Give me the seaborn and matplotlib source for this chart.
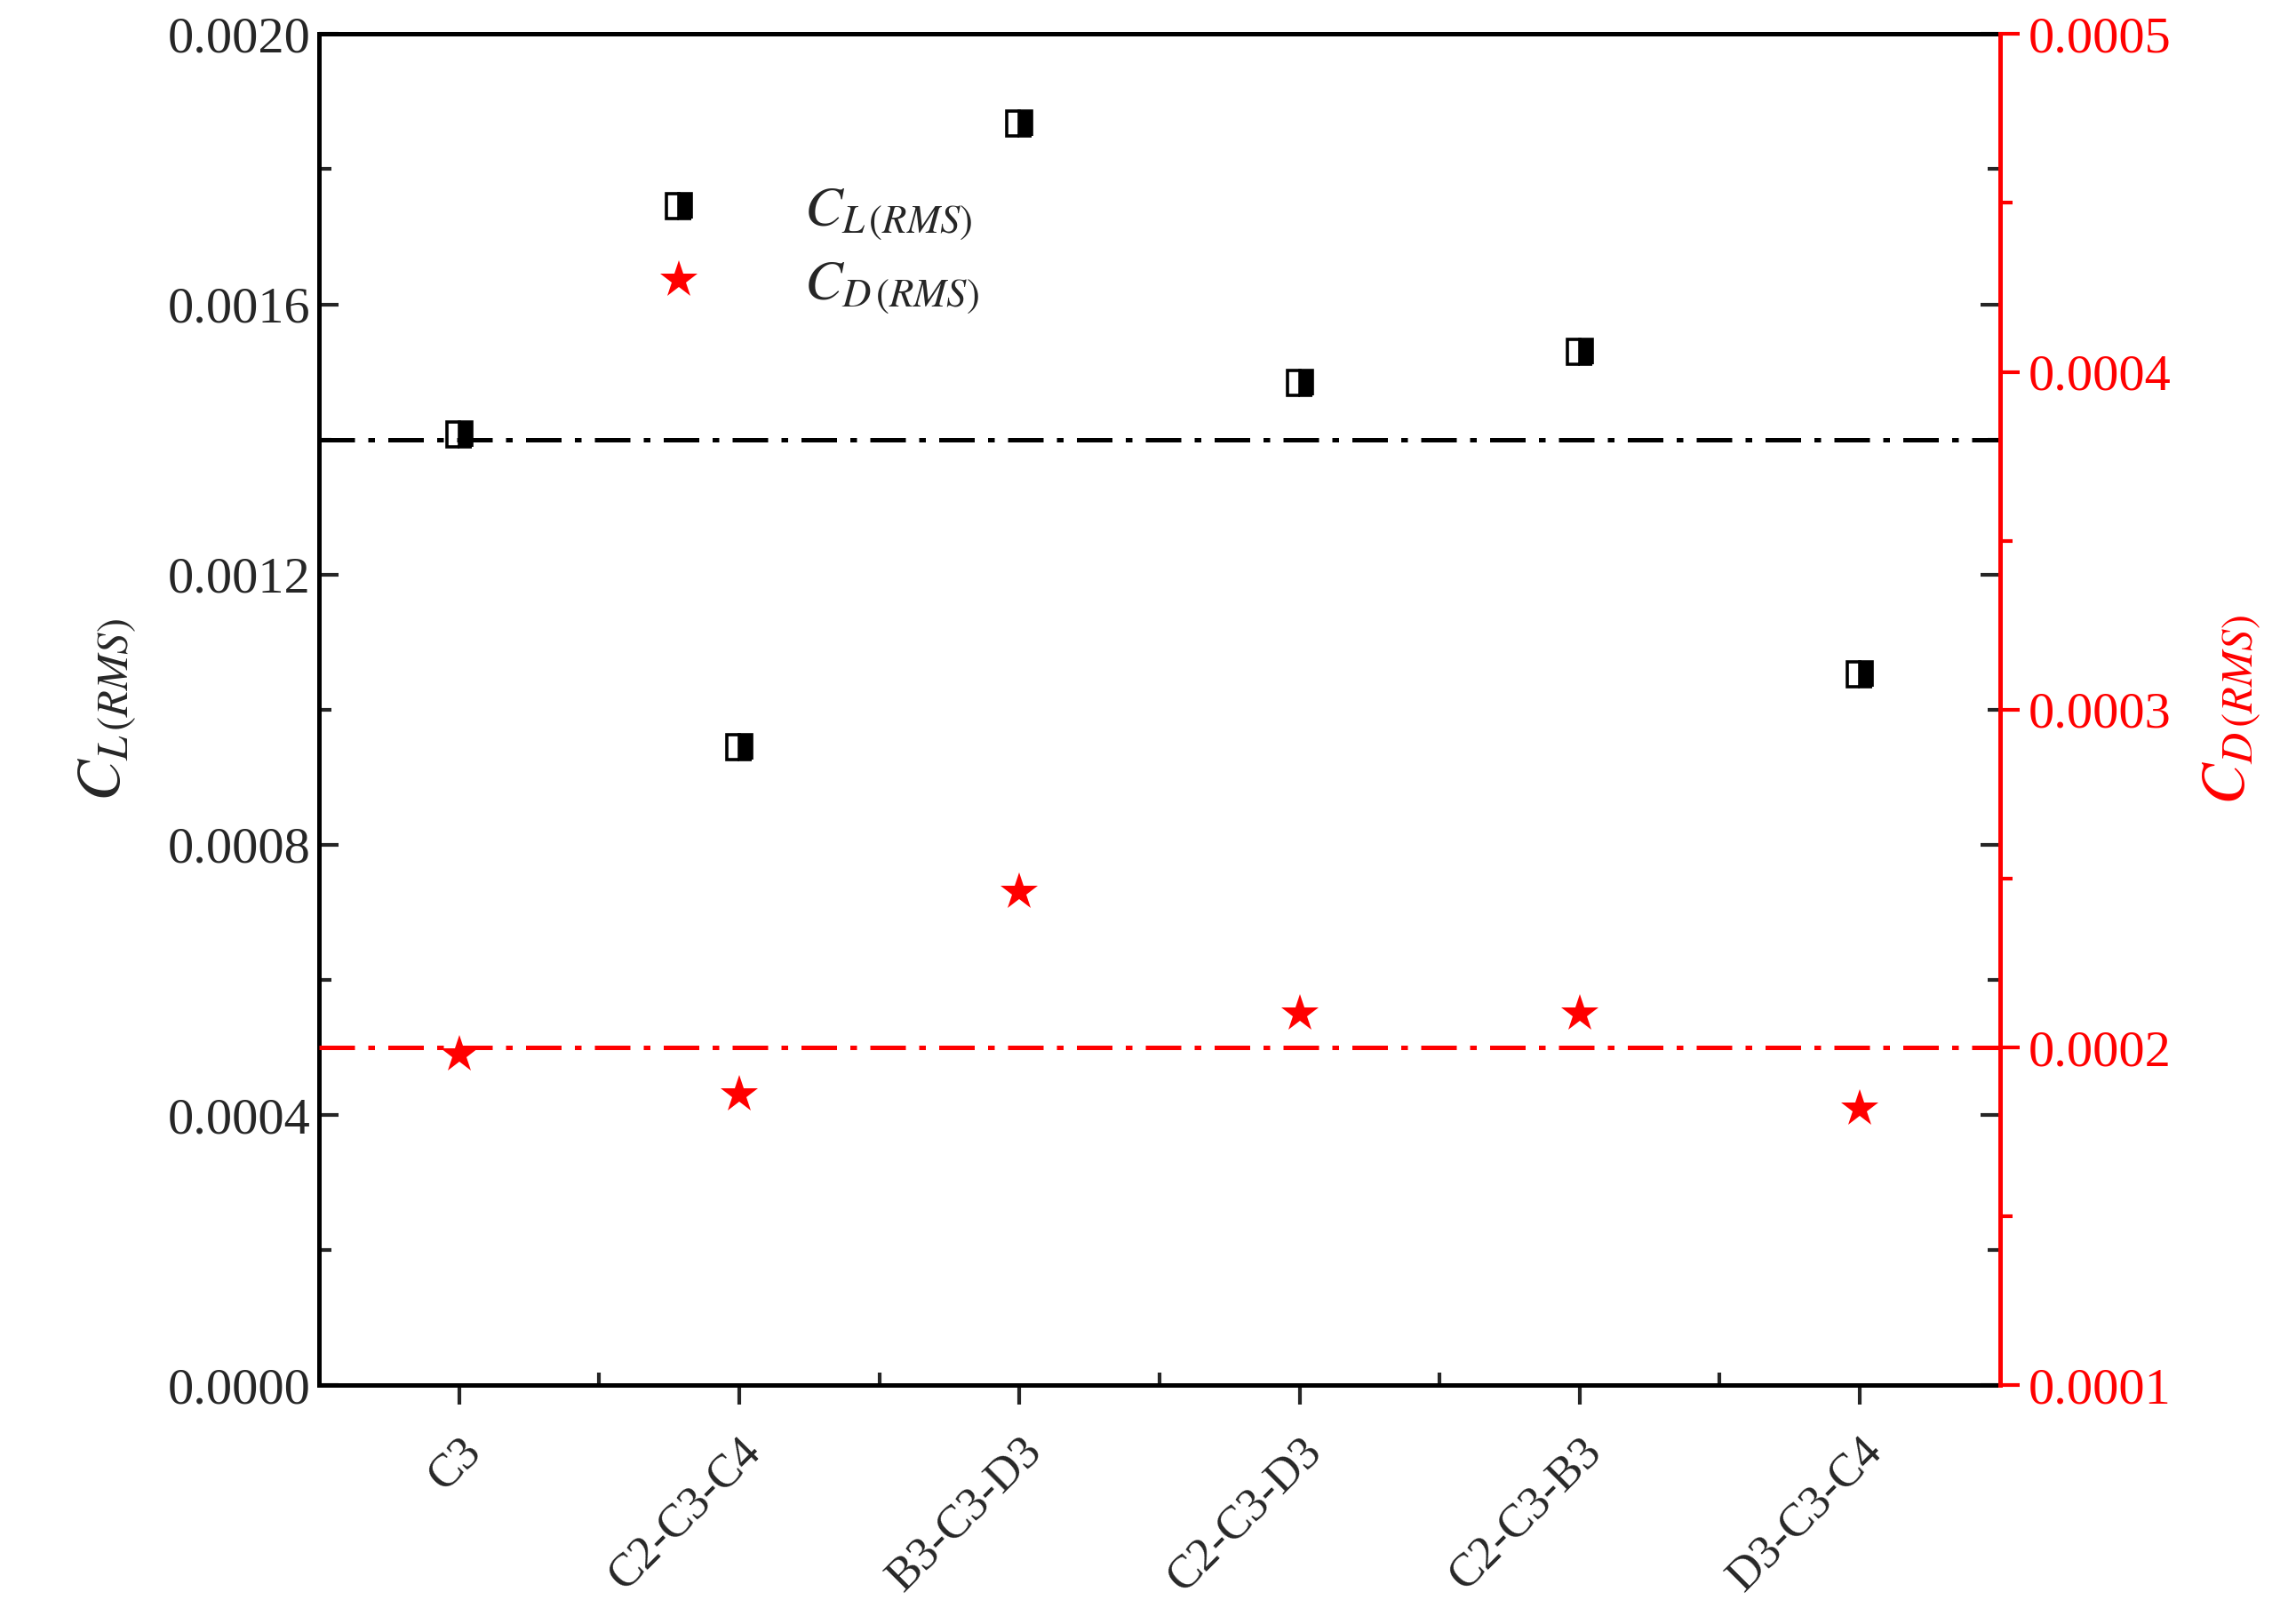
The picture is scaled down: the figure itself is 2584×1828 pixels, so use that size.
import matplotlib
matplotlib.use('Agg')
import matplotlib.pyplot as plt
import seaborn as sns
import numpy as np
from matplotlib.ticker import MultipleLocator, FixedLocator

sns.set_style('white')
plt.rcParams['font.family'] = ['Liberation Serif', 'DejaVu Serif']
plt.rcParams['mathtext.fontset'] = 'stix'

# data
cases = ['C3', 'C2-C3-C4', 'B3-C3-D3', 'C2-C3-D3', 'C2-C3-B3', 'D3-C3-C4']
cl_rms = [0.001408, 0.000945, 0.001868, 0.001484, 0.001530, 0.001053]
cd_rms = [0.000198, 0.000186, 0.000246, 0.000210, 0.000210, 0.000182]
cl_ref = 0.0014
cd_ref = 0.0002

xpos = np.arange(len(cases))

fig = plt.figure(figsize=(12.92, 9.14), dpi=200)
ax = fig.add_axes([0.139, 0.147, 0.732, 0.832])
ax2 = ax.twinx()

sns.lineplot(x=xpos, y=cl_rms, ax=ax, marker='s', linestyle='', color='black',
             markersize=10, fillstyle='right', markeredgewidth=1.3, markeredgecolor='black',
             markerfacecolor='black', markerfacecoloralt='white',
             label='$C_{L\\,(RMS)}$', legend=False)
sns.lineplot(x=xpos, y=cd_rms, ax=ax2, marker='*', linestyle='', color='red',
             markersize=16, markeredgewidth=0, label='$C_{D\\,(RMS)}$', legend=False)
ax.axhline(cl_ref, color='black', linestyle=(0, (8, 3, 1.5, 3)), lw=1.8)
ax2.axhline(cd_ref, color='red', linestyle=(0, (8, 3, 1.5, 3)), lw=1.8)

ax.set_xlim(-0.5, 5.5)
ax.set_ylim(0, 0.002)
ax2.set_ylim(0.0001, 0.0005)

ax.set_xticks(xpos)
ax.set_xticklabels(cases, rotation=45, ha='right', rotation_mode='anchor', fontsize=19)
ax.xaxis.set_minor_locator(FixedLocator(xpos[:-1] + 0.5))
ax.yaxis.set_major_locator(MultipleLocator(0.0004))
ax.yaxis.set_minor_locator(MultipleLocator(0.0002))
ax.set_yticklabels([f'{v:.4f}' for v in ax.get_yticks()], fontsize=21)
ax2.yaxis.set_major_locator(MultipleLocator(0.0001))
ax2.yaxis.set_minor_locator(MultipleLocator(0.00005))
ax2.set_yticklabels([f'{v:.4f}' for v in ax2.get_yticks()], fontsize=21, color='red')

ax.tick_params(which='major', direction='in', length=8, width=1.5, top=False, right=True, left=True, bottom=True)
ax.tick_params(which='minor', direction='in', length=5, width=1.5, right=True, left=True, bottom=True)
ax.tick_params(axis='x', which='major', direction='out', length=8, pad=10)
ax.tick_params(axis='x', which='minor', direction='in', length=5)
ax2.tick_params(which='major', direction='out', length=8, width=1.5, colors='red')
ax2.tick_params(which='minor', direction='out', length=5, width=1.5, colors='red')

for s in ['left', 'top', 'bottom']:
    ax.spines[s].set_linewidth(1.8)
    ax.spines[s].set_color('black')
ax2.spines['right'].set_color('red')
ax2.spines['right'].set_linewidth(1.8)
ax2.spines['left'].set_visible(False)
ax2.spines['top'].set_visible(False)
ax2.spines['bottom'].set_visible(False)

ax.set_ylabel('$C_{L\\,(RMS)}$', fontsize=25, labelpad=12)
ax2.set_ylabel('$C_{D\\,(RMS)}$', fontsize=25, color='red', labelpad=12)

h1, l1 = ax.get_legend_handles_labels()
h2, l2 = ax2.get_legend_handles_labels()
ax.legend(h1 + h2, l1 + l2, loc='upper left', bbox_to_anchor=(0.15, 0.925), frameon=False,
          fontsize=23, handletextpad=1.2, handlelength=2.0, labelspacing=0.3)

fig.savefig('out.png', dpi=200)
